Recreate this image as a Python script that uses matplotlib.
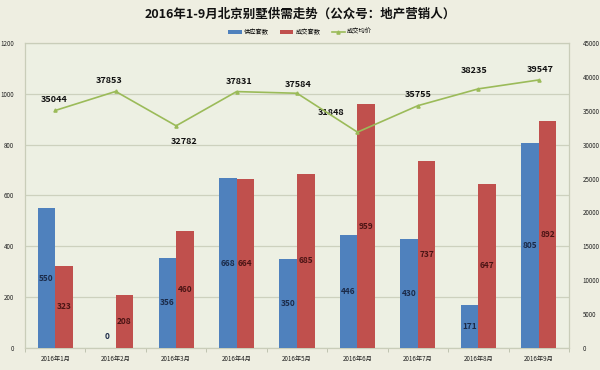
import matplotlib
matplotlib.use("Agg")
import matplotlib.pyplot as plt
import numpy as np

plt.rcParams['font.family'] = ['Noto Sans CJK SC', 'DejaVu Sans']

# 数据
months = ["2016年1月", "2016年2月", "2016年3月", "2016年4月", "2016年5月",
          "2016年6月", "2016年7月", "2016年8月", "2016年9月"]
supply = [550, 0, 356, 668, 350, 446, 430, 171, 805]
deals = [323, 208, 460, 664, 685, 959, 737, 647, 892]
price = [35044, 37853, 32782, 37831, 37584, 31848, 35755, 38235, 39547]

# 均价标签偏移 (像素)
label_offsets = [(-1, 11), (-7, 11), (8, -16), (3, 10), (1, 9),
                 (-26, 20), (0, 11), (-4, 18), (1, 10)]

c_blue = "#4F81BD"
c_red = "#C0504D"
c_green = "#9BBB59"
bg = "#EEEEE1"

fig = plt.figure(figsize=(6, 3.7), dpi=100)
fig.patch.set_facecolor(bg)
ax = fig.add_axes([25 / 600, 1 - 348 / 370, 544 / 600, 305 / 370])
ax.set_facecolor("#EDF0E3")

x = np.arange(len(months))
w = 0.29
b1 = ax.bar(x - w / 2, supply, w, color=c_blue, label="供应套数", zorder=3)
b2 = ax.bar(x + w / 2, deals, w, color=c_red, label="成交套数", zorder=3)

for xi, v in zip(x, supply):
    yy = v / 2 if v > 40 else v
    dy = 0 if v > 40 else 8
    ax.annotate(str(v), (xi - w / 2, yy), xytext=(0, dy), textcoords="offset points",
                ha="center", va="center", fontsize=6, fontweight="bold", color="#1B2A48", zorder=5)
for xi, v in zip(x, deals):
    ax.annotate(str(v), (xi + w / 2, v / 2), ha="center", va="center",
                fontsize=6, fontweight="bold", color="#4A1414", zorder=5)

ax.set_xlim(-0.5, len(months) - 0.5)
ax.set_ylim(0, 1200)
ax.set_yticks(np.arange(0, 1201, 200))
ax.set_xticks(x)
ax.set_xticklabels(months)
ax.set_xticks(np.arange(-0.5, len(months), 1), minor=True)
ax.tick_params(axis="x", which="major", length=0, labelsize=4.5, pad=5, colors="#222222")
ax.tick_params(axis="x", which="minor", length=3, color="#B8BCA8")
ax.tick_params(axis="y", length=0, labelsize=4.5, pad=8, colors="#222222")
ax.grid(axis="y", color="#CDD1BE", linewidth=0.9, zorder=0)
for s in ax.spines.values():
    s.set_color("#C9CDB9")
    s.set_linewidth(0.9)

ax2 = ax.twinx()
l1, = ax2.plot(x, price, color=c_green, linewidth=1.2, marker="^", markersize=2.3,
               label="成交均价", zorder=4)
ax2.set_ylim(0, 45000)
ax2.set_yticks(np.arange(0, 45001, 5000))
ax2.tick_params(axis="y", length=0, labelsize=4.5, pad=10, colors="#222222")
for s in ax2.spines.values():
    s.set_visible(False)

for xi, v, (dx, dy) in zip(x, price, label_offsets):
    ax2.annotate(str(v), (xi, v), xytext=(dx * 0.72, dy * 0.72), textcoords="offset points",
                 ha="center", va="center", fontsize=6.5, fontweight="bold", color="#111111")

fig.text(0.5, 1 - 14 / 370, "2016年1-9月北京别墅供需走势（公众号：地产营销人）",
         ha="center", va="center", fontsize=9, fontweight="bold", color="#111111")
fig.legend(handles=[b1, b2, l1], loc="center", bbox_to_anchor=(0.5, 1 - 32 / 370),
           ncol=3, frameon=False, fontsize=4.5, handlelength=2.2, handleheight=0.5,
           columnspacing=1.8, handletextpad=0.3)

fig.savefig("out.png", dpi=100, facecolor=bg)
